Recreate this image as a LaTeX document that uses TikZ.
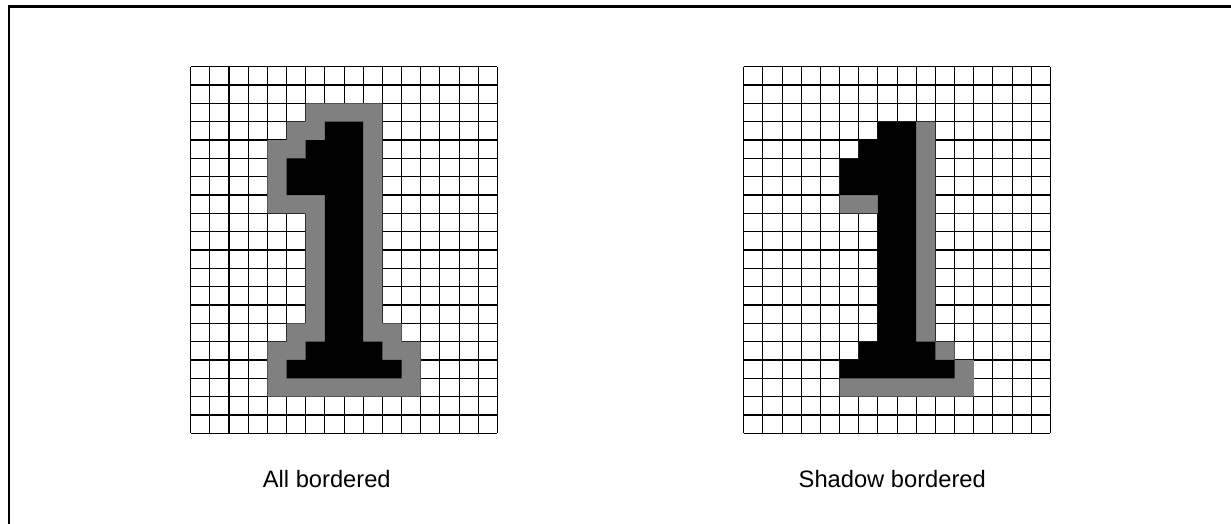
\documentclass[tikz,border=0pt]{standalone}
\usepackage{fontspec}
\setmainfont{Liberation Sans}
\usepackage{xcolor}
\usepackage{tikz}

\definecolor{halogray}{RGB}{128,128,128}

\tikzset{
    cellgrid/.style={draw=black,line width=1.1pt},
    ink/.style={fill=black},
    halo/.style={fill=halogray},
    frameline/.style={draw=black,line width=2.6pt},
    caption/.style={anchor=base,inner sep=0pt,font=\fontsize{23.7}{28}\selectfont}
}

% the digit "1", in grid cells (x right, y down)
\newcommand{\digitone}{(7,3) -- (9,3) -- (9,15) -- (10,15) -- (10,16) -- (11,16) -- (11,17) -- (5,17) -- (5,16) -- (6,16) -- (6,15) -- (7,15) -- (7,7) -- (5,7) -- (5,5) -- (6,5) -- (6,4) -- (7,4) -- cycle}

\begin{document}
\begin{tikzpicture}[x=1pt,y=-1pt]
    \useasboundingbox (0,0) rectangle (1231,524);

    % frame, open to the right and bottom
    \coordinate (framebl) at (9,524);
    \coordinate (frametl) at (9,6.5);
    \coordinate (frametr) at (1231,6.5);
    \draw[frameline] (framebl) -- (frametl) -- (frametr);

    % all bordered
    \begin{scope}[shift={(190.7,66.7)},x=19.17pt,y=-18.33pt]
        \foreach \i in {0,...,16} \draw[cellgrid] (\i,0) -- (\i,20);
        \foreach \j in {0,...,20} \draw[cellgrid] (0,\j) -- (16,\j);
        \fill[halo] (6,2) -- (10,2) -- (10,14) -- (11,14) -- (11,15) -- (12,15) -- (12,18) -- (4,18) -- (4,15) -- (5,15) -- (5,14) -- (6,14) -- (6,8) -- (4,8) -- (4,4) -- (5,4) -- (5,3) -- (6,3) -- cycle;
        \fill[ink] \digitone;
        \coordinate (allfoot) at (7.1,20);
    \end{scope}

    % shadow bordered
    \begin{scope}[shift={(743.7,66.7)},x=19.17pt,y=-18.33pt]
        \foreach \i in {0,...,16} \draw[cellgrid] (\i,0) -- (\i,20);
        \foreach \j in {0,...,20} \draw[cellgrid] (0,\j) -- (16,\j);
        \fill[halo] (7,3) -- (10,3) -- (10,15) -- (11,15) -- (11,16) -- (12,16) -- (12,18) -- (5,18) -- (5,16) -- (6,16) -- (6,15) -- (7,15) -- (7,8) -- (5,8) -- (5,5) -- (6,5) -- (6,4) -- (7,4) -- cycle;
        \fill[ink] \digitone;
        \coordinate (shadowfoot) at (7.75,20);
    \end{scope}

    \node[caption] (alllabel) at ([yshift=-53.7pt]allfoot) {All bordered};
    \node[caption] (shadowlabel) at ([yshift=-53.7pt]shadowfoot) {Shadow bordered};
\end{tikzpicture}
\end{document}
